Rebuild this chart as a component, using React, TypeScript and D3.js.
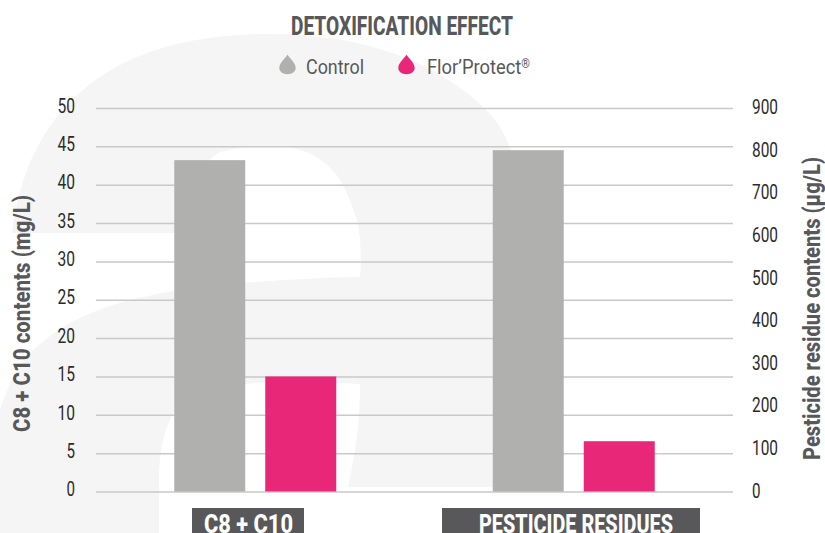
import React, { useRef, useEffect } from 'react';
import * as d3 from 'd3';

const categories = ['C8 + C10', 'PESTICIDE RESIDUES'];
const seriesNames = ['Control', 'Flor\u2019Protect'];
const controlValues = [43.2, 801];
const florProtectValues = [15, 118];
const leftTicks = [0, 5, 10, 15, 20, 25, 30, 35, 40, 45, 50];
const rightTicks = [0, 100, 200, 300, 400, 500, 600, 700, 800, 900];
const seriesColors = ['#b0b0ae', '#e92778'];

const WIDTH = 825;
const HEIGHT = 533;
const FONT = 'Roboto, sans-serif';
const DARK = '#58585a';

// the faint brand letter behind the plot
const LOGO =
  'M12,233 C22,150 70,34 268,34 C370,34 440,65 483,107 C495,118 503,130 508,143 C522,175 530,215 530,300 L530,487 L348,487 ' +
  'C356,450 360,420 360,384 C330,382 300,381 270,382 C215,385 185,395 173,413 C163,432 159,455 159,480 ' +
  'L159,533 L0,533 L0,410 C8,385 20,362 30,353 C50,335 60,328 76,320 C100,308 125,300 153,295 ' +
  'C190,286 290,278 360,277 C362,255 360,232 357,220 C352,205 347,192 340,180 C322,152 295,146 268,146 ' +
  'C245,146 230,149 218,153 C200,165 190,195 186,233 Z';

const DROP = 'M0,-10 C1.5,-6.5 8.2,-2 8.2,3.5 C8.2,7 4.5,9.7 0,9.7 C-4.5,9.7 -8.2,7 -8.2,3.5 C-8.2,-2 -1.5,-6.5 0,-10 Z';

export default function App() {
  const svgRef = useRef<SVGSVGElement>(null);

  useEffect(() => {
    const svg = d3.select(svgRef.current);
    svg.selectAll('*').remove();

    const yLeft = d3.scaleLinear().domain([0, 50]).range([491.5, 108]);
    const yRight = d3.scaleLinear().domain([0, 900]).range([491.5, 108]);

    const x0 = d3
      .scaleBand()
      .domain(categories)
      .range([96, 733])
      .paddingInner(0.4914)
      .paddingOuter(0.2457);
    const x1 = d3
      .scaleBand()
      .domain(seriesNames)
      .range([0, x0.bandwidth()])
      .paddingInner(0.22);

    svg.append('path').attr('d', LOGO).attr('fill', '#f5f5f5');

    // left axis carries the gridlines
    const left = svg
      .append('g')
      .attr('transform', 'translate(96,0)')
      .call(
        d3
          .axisLeft(yLeft)
          .tickValues(leftTicks)
          .tickSizeInner(-637)
          .tickSizeOuter(0)
          .tickPadding(21)
      );
    left.select('.domain').remove();
    left.selectAll('line').attr('stroke', '#c9c9c9').attr('stroke-width', 1.5);
    left
      .selectAll('text')
      .attr('font-family', FONT)
      .attr('font-size', 21)
      .attr('fill', '#2b2b2b')
      .attr('dy', '0.2em')
      .attr('textLength', d => (String(d).length === 1 ? 8.5 : 17.5))
      .attr('lengthAdjust', 'spacingAndGlyphs');

    const right = svg
      .append('g')
      .attr('transform', 'translate(752,0)')
      .call(d3.axisRight(yRight).tickValues(rightTicks).tickSize(0).tickPadding(0));
    right.select('.domain').remove();
    right
      .selectAll('text')
      .attr('font-family', FONT)
      .attr('font-size', 21)
      .attr('fill', '#2b2b2b')
      .attr('dy', '0.27em')
      .attr('textLength', d => (String(d).length === 1 ? 8.5 : 26))
      .attr('lengthAdjust', 'spacingAndGlyphs');

    // bars
    const addBars = (values: number[], name: string, color: string, y: d3.ScaleLinear<number, number>[]) => {
      svg
        .append('g')
        .selectAll('rect')
        .data(values)
        .join('rect')
        .attr('x', (_, i) => x0(categories[i]) + x1(name))
        .attr('y', (d, i) => y[i](d))
        .attr('width', x1.bandwidth())
        .attr('height', (d, i) => y[i](0) - y[i](d))
        .attr('fill', color);
    };
    addBars(controlValues, seriesNames[0], seriesColors[0], [yLeft, yRight]);
    addBars(florProtectValues, seriesNames[1], seriesColors[1], [yLeft, yRight]);

    const label = (
      text: string,
      x: number,
      y: number,
      size: number,
      weight: number,
      fill: string,
      length: number
    ) =>
      svg
        .append('text')
        .attr('x', x)
        .attr('y', y)
        .attr('font-family', FONT)
        .attr('font-size', size)
        .attr('font-weight', weight)
        .attr('fill', fill)
        .attr('textLength', length)
        .attr('lengthAdjust', 'spacingAndGlyphs')
        .text(text);

    label('DETOXIFICATION EFFECT', 291, 35, 25, 800, DARK, 222);

    // legend
    svg.append('path').attr('d', DROP).attr('transform', 'translate(287.5,64.5)').attr('fill', seriesColors[0]);
    svg.append('path').attr('d', DROP).attr('transform', 'translate(406.5,64.5)').attr('fill', seriesColors[1]);
    label(seriesNames[0], 306, 74, 20, 400, DARK, 58);
    const flor = label(seriesNames[1], 427, 74, 20, 400, DARK, 103);
    flor.append('tspan').attr('font-size', 12).attr('dy', -6).text('\u00ae');

    // category labels
    const boxes = [
      { x: 192, w: 112, tx: 204, tl: 89 },
      { x: 442, w: 258, tx: 479, tl: 194 },
    ];
    categories.forEach((c, i) => {
      svg
        .append('rect')
        .attr('x', boxes[i].x)
        .attr('y', 508)
        .attr('width', boxes[i].w)
        .attr('height', 25)
        .attr('fill', DARK);
      label(c, boxes[i].tx, 533, 26, 800, '#fff', boxes[i].tl);
    });

    // axis titles
    label('C8 + C10 contents (mg/L)', 0, 0, 23, 800, DARK, 237).attr('transform', 'translate(30,432) rotate(-90)');
    label('Pesticide residue contents (\u00b5g/L)', 0, 0, 23, 800, DARK, 303).attr(
      'transform',
      'translate(820,460) rotate(-90)'
    );
  }, []);

  return (
    <svg
      ref={svgRef}
      width={WIDTH}
      height={HEIGHT}
      style={{ position: 'absolute', left: 0, top: 0, background: '#fff' }}
    />
  );
}
